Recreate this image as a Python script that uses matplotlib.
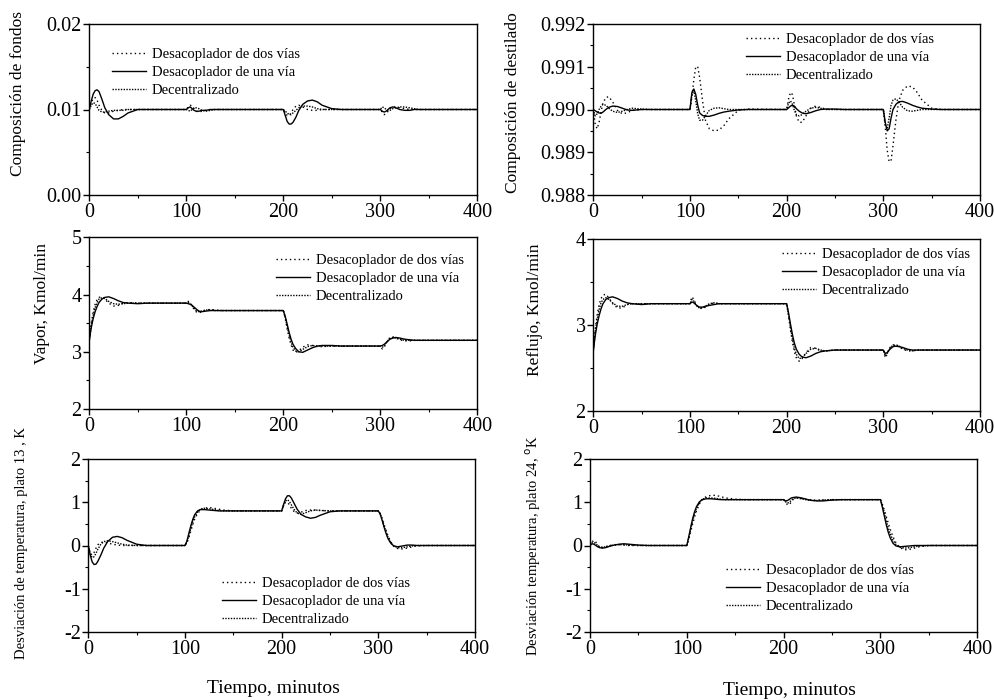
import matplotlib
matplotlib.use("Agg")
import matplotlib.pyplot as plt
from matplotlib.ticker import MultipleLocator, FormatStrFormatter

plt.rcParams['font.family'] = ['Liberation Serif', 'DejaVu Serif']
plt.rcParams['axes.unicode_minus'] = False
plt.rcParams['axes.linewidth'] = 1.0

# time grid (minutes) - same for every panel
t = [0, 2, 4, 6, 8, 10, 13, 16, 20, 25, 30, 35, 40, 50, 60,
     100, 102, 104, 106, 108, 110, 113, 116, 120, 125, 130, 135, 140, 150, 160,
     200, 202, 204, 206, 208, 210, 213, 216, 220, 225, 230, 235, 240, 250, 260,
     300, 302, 304, 306, 308, 310, 313, 316, 320, 325, 330, 335, 340, 350, 360,
     400]

labels = ['Desacoplador de dos vías', 'Desacoplador de una vía', 'Decentralizado']

# composición de fondos
fondos_dos = [0.0100, 0.0108, 0.0113, 0.0114, 0.0111, 0.0105, 0.0099, 0.0096, 0.0096, 0.0098, 0.0099, 0.0100, 0.0100, 0.0100, 0.0100,
              0.0100, 0.0103, 0.0105, 0.0104, 0.0101, 0.0098, 0.0097, 0.0098, 0.0099, 0.0100, 0.0100, 0.0100, 0.0100, 0.0100, 0.0100,
              0.0100, 0.0096, 0.0093, 0.0093, 0.0096, 0.0100, 0.0104, 0.0105, 0.0103, 0.0100, 0.0099, 0.0099, 0.0100, 0.0100, 0.0100,
              0.0100, 0.0097, 0.0094, 0.0095, 0.0098, 0.0101, 0.0103, 0.0103, 0.0102, 0.0101, 0.0100, 0.0100, 0.0100, 0.0100, 0.0100,
              0.0100]
fondos_una = [0.0100, 0.0110, 0.0118, 0.0122, 0.0123, 0.0121, 0.0112, 0.0102, 0.0094, 0.0089, 0.0089, 0.0092, 0.0096, 0.0100, 0.0100,
              0.0100, 0.0102, 0.0103, 0.0101, 0.0099, 0.0098, 0.0098, 0.0099, 0.0099, 0.0100, 0.0100, 0.0100, 0.0100, 0.0100, 0.0100,
              0.0100, 0.0093, 0.0086, 0.0083, 0.0083, 0.0085, 0.0091, 0.0099, 0.0106, 0.0110, 0.0111, 0.0109, 0.0105, 0.0101, 0.0100,
              0.0100, 0.0098, 0.0097, 0.0098, 0.0100, 0.0102, 0.0103, 0.0102, 0.0100, 0.0099, 0.0099, 0.0100, 0.0100, 0.0100, 0.0100,
              0.0100]
fondos_dec = [0.0100, 0.0105, 0.0108, 0.0107, 0.0103, 0.0099, 0.0097, 0.0097, 0.0098, 0.0099, 0.0099, 0.0099, 0.0100, 0.0100, 0.0100,
              0.0100, 0.0099, 0.0098, 0.0100, 0.0102, 0.0102, 0.0101, 0.0099, 0.0098, 0.0099, 0.0100, 0.0100, 0.0100, 0.0100, 0.0100,
              0.0100, 0.0098, 0.0096, 0.0094, 0.0094, 0.0096, 0.0099, 0.0102, 0.0104, 0.0104, 0.0103, 0.0101, 0.0100, 0.0100, 0.0100,
              0.0100, 0.0103, 0.0102, 0.0100, 0.0099, 0.0099, 0.0101, 0.0102, 0.0103, 0.0103, 0.0102, 0.0101, 0.0100, 0.0100, 0.0100,
              0.0100]

# composición de destilado
dest_dos = [0.99000, 0.98965, 0.98955, 0.98970, 0.98995, 0.99015, 0.99028, 0.99030, 0.99018, 0.98998, 0.98990, 0.98992, 0.98998, 0.99000, 0.99000,
            0.99000, 0.99030, 0.99070, 0.99100, 0.99100, 0.99075, 0.99020, 0.98975, 0.98955, 0.98950, 0.98952, 0.98962, 0.98978, 0.98998, 0.99001,
            0.99000, 0.99025, 0.99040, 0.99035, 0.99010, 0.98985, 0.98970, 0.98970, 0.98985, 0.99003, 0.99008, 0.99005, 0.99001, 0.99000, 0.99000,
            0.99000, 0.98960, 0.98905, 0.98878, 0.98880, 0.98915, 0.98975, 0.99020, 0.99045, 0.99055, 0.99053, 0.99040, 0.99022, 0.99003, 0.99000,
            0.99000]
dest_una = [0.99000, 0.98997, 0.98994, 0.98992, 0.98991, 0.98994, 0.99000, 0.99005, 0.99008, 0.99007, 0.99003, 0.98999, 0.98998, 0.99000, 0.99000,
            0.99000, 0.99040, 0.99048, 0.99035, 0.99010, 0.98992, 0.98986, 0.98984, 0.98984, 0.98987, 0.98991, 0.98994, 0.98996, 0.98999, 0.99000,
            0.99000, 0.99004, 0.99008, 0.99010, 0.99008, 0.99002, 0.98996, 0.98992, 0.98990, 0.98993, 0.98997, 0.99000, 0.99001, 0.99001, 0.99000,
            0.99000, 0.98970, 0.98950, 0.98955, 0.98980, 0.99000, 0.99012, 0.99018, 0.99019, 0.99015, 0.99010, 0.99006, 0.99003, 0.99001, 0.99000,
            0.99000]
dest_dec = [0.99000, 0.98985, 0.98990, 0.99000, 0.99008, 0.99012, 0.99010, 0.99003, 0.98996, 0.98993, 0.98996, 0.99000, 0.99003, 0.99001, 0.99000,
            0.99000, 0.99035, 0.99045, 0.99020, 0.98990, 0.98975, 0.98975, 0.98985, 0.98998, 0.99003, 0.99004, 0.99002, 0.99000, 0.99000, 0.99000,
            0.99000, 0.99015, 0.99020, 0.99012, 0.98998, 0.98988, 0.98985, 0.98988, 0.98996, 0.99003, 0.99005, 0.99003, 0.99000, 0.99000, 0.99000,
            0.99000, 0.98965, 0.98955, 0.98980, 0.99010, 0.99022, 0.99025, 0.99018, 0.99005, 0.98997, 0.98996, 0.98998, 0.99000, 0.99000, 0.99000,
            0.99000]

# vapor, Kmol/min
vapor_dos = [3.20, 3.50, 3.70, 3.83, 3.91, 3.95, 3.96, 3.92, 3.85, 3.80, 3.81, 3.85, 3.86, 3.85, 3.85,
             3.85, 3.88, 3.86, 3.80, 3.74, 3.70, 3.68, 3.70, 3.73, 3.74, 3.73, 3.72, 3.72, 3.72, 3.72,
             3.72, 3.58, 3.40, 3.24, 3.12, 3.03, 2.99, 3.02, 3.08, 3.12, 3.11, 3.09, 3.09, 3.10, 3.10,
             3.10, 3.05, 3.08, 3.15, 3.21, 3.25, 3.26, 3.24, 3.21, 3.19, 3.19, 3.20, 3.20, 3.20, 3.20,
             3.20]
vapor_una = [3.20, 3.42, 3.58, 3.70, 3.79, 3.86, 3.92, 3.95, 3.96, 3.93, 3.89, 3.86, 3.85, 3.84, 3.85,
             3.85, 3.84, 3.83, 3.81, 3.78, 3.75, 3.71, 3.70, 3.71, 3.72, 3.72, 3.72, 3.72, 3.72, 3.72,
             3.72, 3.62, 3.48, 3.34, 3.22, 3.13, 3.05, 3.00, 2.99, 3.03, 3.07, 3.10, 3.11, 3.11, 3.10,
             3.10, 3.11, 3.13, 3.16, 3.19, 3.22, 3.24, 3.25, 3.24, 3.22, 3.21, 3.20, 3.20, 3.20, 3.20,
             3.20]
vapor_dec = [3.20, 3.46, 3.64, 3.77, 3.86, 3.92, 3.94, 3.93, 3.88, 3.84, 3.83, 3.84, 3.85, 3.85, 3.85,
             3.85, 3.86, 3.84, 3.80, 3.76, 3.72, 3.70, 3.71, 3.73, 3.73, 3.72, 3.72, 3.72, 3.72, 3.72,
             3.72, 3.60, 3.44, 3.29, 3.17, 3.08, 3.01, 3.00, 3.04, 3.09, 3.11, 3.10, 3.10, 3.10, 3.10,
             3.10, 3.08, 3.10, 3.15, 3.20, 3.23, 3.25, 3.24, 3.22, 3.20, 3.20, 3.20, 3.20, 3.20, 3.20,
             3.20]

# reflujo, Kmol/min
refl_dos = [2.70, 2.95, 3.12, 3.24, 3.31, 3.35, 3.36, 3.32, 3.25, 3.20, 3.20, 3.24, 3.25, 3.25, 3.25,
            3.25, 3.33, 3.30, 3.25, 3.22, 3.20, 3.19, 3.21, 3.24, 3.26, 3.25, 3.25, 3.25, 3.25, 3.25,
            3.25, 3.10, 2.94, 2.80, 2.69, 2.62, 2.58, 2.61, 2.68, 2.74, 2.73, 2.70, 2.70, 2.71, 2.71,
            2.71, 2.62, 2.66, 2.72, 2.76, 2.77, 2.77, 2.75, 2.72, 2.70, 2.70, 2.71, 2.71, 2.71, 2.71,
            2.71]
refl_una = [2.70, 2.88, 3.01, 3.11, 3.19, 3.25, 3.30, 3.32, 3.33, 3.31, 3.28, 3.26, 3.25, 3.24, 3.25,
            3.25, 3.27, 3.26, 3.24, 3.22, 3.21, 3.21, 3.22, 3.23, 3.24, 3.25, 3.25, 3.25, 3.25, 3.25,
            3.25, 3.14, 3.01, 2.89, 2.79, 2.72, 2.66, 2.63, 2.62, 2.64, 2.67, 2.69, 2.70, 2.71, 2.71,
            2.71, 2.67, 2.68, 2.71, 2.73, 2.75, 2.755, 2.75, 2.74, 2.72, 2.71, 2.71, 2.71, 2.71, 2.71,
            2.71]
refl_dec = [2.70, 2.92, 3.07, 3.18, 3.26, 3.30, 3.32, 3.30, 3.26, 3.22, 3.22, 3.24, 3.25, 3.25, 3.25,
            3.25, 3.30, 3.28, 3.24, 3.21, 3.20, 3.20, 3.22, 3.25, 3.26, 3.25, 3.25, 3.25, 3.25, 3.25,
            3.25, 3.12, 2.97, 2.84, 2.73, 2.66, 2.61, 2.62, 2.67, 2.72, 2.73, 2.71, 2.70, 2.71, 2.71,
            2.71, 2.64, 2.67, 2.72, 2.75, 2.76, 2.77, 2.76, 2.73, 2.71, 2.70, 2.71, 2.71, 2.71, 2.71,
            2.71]

# desviación de temperatura, plato 13
p13_dos = [0.00, -0.18, -0.22, -0.16, -0.06, 0.02, 0.07, 0.08, 0.06, 0.03, 0.01, 0.00, 0.00, 0.00, 0.00,
           0.00, 0.06, 0.18, 0.33, 0.48, 0.61, 0.74, 0.82, 0.86, 0.88, 0.86, 0.84, 0.82, 0.80, 0.80,
           0.80, 0.92, 1.00, 1.00, 0.94, 0.86, 0.78, 0.75, 0.77, 0.81, 0.82, 0.82, 0.81, 0.80, 0.80,
           0.80, 0.74, 0.62, 0.48, 0.35, 0.22, 0.08, -0.02, -0.07, -0.08, -0.06, -0.03, -0.01, 0.00, 0.00,
           0.00]
p13_una = [0.00, -0.22, -0.38, -0.44, -0.43, -0.36, -0.22, -0.06, 0.09, 0.19, 0.21, 0.18, 0.12, 0.03, 0.00,
           0.00, 0.10, 0.28, 0.45, 0.60, 0.71, 0.80, 0.83, 0.83, 0.82, 0.81, 0.80, 0.80, 0.80, 0.80,
           0.80, 0.95, 1.08, 1.15, 1.15, 1.10, 0.97, 0.84, 0.72, 0.66, 0.63, 0.65, 0.70, 0.78, 0.80,
           0.80, 0.72, 0.58, 0.42, 0.28, 0.16, 0.05, -0.01, -0.03, -0.01, 0.01, 0.01, 0.00, 0.00, 0.00,
           0.00]
p13_dec = [0.00, -0.20, -0.28, -0.26, -0.18, -0.08, 0.03, 0.09, 0.11, 0.09, 0.06, 0.03, 0.01, 0.00, 0.00,
           0.00, 0.08, 0.23, 0.39, 0.54, 0.66, 0.78, 0.84, 0.86, 0.85, 0.83, 0.81, 0.80, 0.80, 0.80,
           0.80, 0.93, 1.03, 1.06, 1.02, 0.94, 0.83, 0.75, 0.72, 0.76, 0.80, 0.82, 0.81, 0.80, 0.80,
           0.80, 0.73, 0.60, 0.45, 0.31, 0.19, 0.06, -0.01, -0.05, -0.05, -0.03, -0.01, 0.00, 0.00, 0.00,
           0.00]

# desviación de temperatura, plato 24
p24_dos = [0.00, 0.08, 0.12, 0.08, 0.00, -0.04, -0.05, -0.03, 0.00, 0.02, 0.02, 0.01, 0.00, 0.00, 0.00,
           0.00, 0.15, 0.32, 0.50, 0.66, 0.80, 0.96, 1.07, 1.13, 1.16, 1.16, 1.13, 1.10, 1.07, 1.06,
           1.06, 1.00, 0.94, 0.95, 1.01, 1.07, 1.10, 1.10, 1.08, 1.06, 1.05, 1.05, 1.05, 1.06, 1.06,
           1.06, 0.95, 0.82, 0.67, 0.52, 0.38, 0.20, 0.06, -0.05, -0.10, -0.09, -0.06, -0.03, 0.00, 0.00,
           0.00]
p24_una = [0.00, 0.04, 0.03, 0.00, -0.03, -0.05, -0.06, -0.05, -0.02, 0.01, 0.03, 0.04, 0.03, 0.01, 0.00,
           0.00, 0.20, 0.42, 0.62, 0.78, 0.90, 1.01, 1.06, 1.08, 1.08, 1.07, 1.06, 1.06, 1.06, 1.06,
           1.06, 1.03, 1.04, 1.07, 1.10, 1.11, 1.12, 1.11, 1.09, 1.06, 1.04, 1.03, 1.03, 1.05, 1.06,
           1.06, 0.88, 0.68, 0.48, 0.31, 0.18, 0.05, -0.01, -0.03, -0.02, -0.01, 0.00, 0.00, 0.00, 0.00,
           0.00]
p24_dec = [0.00, 0.06, 0.07, 0.04, 0.00, -0.03, -0.04, -0.03, -0.01, 0.01, 0.02, 0.02, 0.01, 0.00, 0.00,
           0.00, 0.18, 0.38, 0.57, 0.73, 0.86, 0.99, 1.07, 1.10, 1.10, 1.09, 1.07, 1.06, 1.06, 1.06,
           1.06, 1.01, 0.98, 1.00, 1.05, 1.08, 1.10, 1.09, 1.07, 1.05, 1.04, 1.04, 1.05, 1.06, 1.06,
           1.06, 0.92, 0.75, 0.57, 0.41, 0.27, 0.12, 0.02, -0.04, -0.06, -0.05, -0.03, -0.01, 0.00, 0.00,
           0.00]

W, H = 995, 700
fig = plt.figure(figsize=(W / 100, H / 100), dpi=100)


def px_axes(left, top, right, bottom):
    return fig.add_axes([left / W, 1 - bottom / H, (right - left) / W, (bottom - top) / H])


styles = [dict(color='black', lw=1.0, ls=(0, (1, 2.2))),
          dict(color='black', lw=1.0, ls='-'),
          dict(color='black', lw=1.0, ls=(0, (1, 1)))]

panels = [
    # box, data, ylim, major, minor, fmt, ylabel, label pos, legend anchor
    dict(box=(89.3, 24, 477.3, 195), data=(fondos_dos, fondos_una, fondos_dec),
         ylim=(0, 0.02), major=0.01, minor=0.005, fmt='%.2f',
         ylabel='Composición de fondos', ylsize=12.5, lab=(18, 94), leg=(112, 48)),
    dict(box=(593.3, 24, 980, 195), data=(dest_dos, dest_una, dest_dec),
         ylim=(0.988, 0.992), major=0.001, minor=0.0005, fmt='%.3f',
         ylabel='Composición de destilado', ylsize=12.5, lab=(513, 103), leg=(746, 33)),
    dict(box=(89.3, 237.3, 477.3, 409), data=(vapor_dos, vapor_una, vapor_dec),
         ylim=(2, 5), major=1, minor=0.5, fmt='%d',
         ylabel='Vapor, Kmol/min', ylsize=12.5, lab=(42, 303), leg=(276, 254)),
    dict(box=(593.3, 239.3, 980, 411), data=(refl_dos, refl_una, refl_dec),
         ylim=(2, 4), major=1, minor=0.5, fmt='%d',
         ylabel='Reflujo, Kmol/min', ylsize=12.5, lab=(535, 310), leg=(782, 248)),
    dict(box=(88.3, 459, 475, 632), data=(p13_dos, p13_una, p13_dec),
         ylim=(-2, 2), major=1, minor=0.5, fmt='%d',
         ylabel='Desviación de temperatura, plato 13 , K', ylsize=10.5, lab=(22, 543), leg=(222, 577)),
    dict(box=(590, 459, 977.3, 632), data=(p24_dos, p24_una, p24_dec),
         ylim=(-2, 2), major=1, minor=0.5, fmt='%d',
         ylabel='Desviación temperatura, plato 24, $^{\\mathrm{o}}$K', ylsize=10.5, lab=(533, 546), leg=(726, 564)),
]

axes = []
for p in panels:
    left, top, right, bottom = p['box']
    ax = px_axes(left, top, right, bottom)
    for y, lab, st in zip(p['data'], labels, styles):
        ax.plot(t, y, label=lab, **st)
    ax.set_xlim(0, 400)
    ax.set_ylim(*p['ylim'])
    ax.xaxis.set_major_locator(MultipleLocator(100))
    ax.xaxis.set_minor_locator(MultipleLocator(50))
    ax.yaxis.set_major_locator(MultipleLocator(p['major']))
    ax.yaxis.set_minor_locator(MultipleLocator(p['minor']))
    ax.yaxis.set_major_formatter(FormatStrFormatter(p['fmt']))
    ax.tick_params(which='major', direction='out', length=4, width=1.0, labelsize=14.5, pad=1.5)
    ax.tick_params(which='minor', direction='out', length=2.5, width=0.8)
    # label centred on its measured pixel position
    lx, ly = p['lab']
    ax.set_ylabel(p['ylabel'], fontsize=p['ylsize'], va='center', ha='center')
    ax.yaxis.set_label_coords((lx - left) / (right - left), (bottom - ly) / (bottom - top))
    gx, gy = p['leg']
    ax.legend(loc='upper left', bbox_to_anchor=(gx / W, 1 - gy / H), bbox_transform=fig.transFigure,
              frameon=False, fontsize=10.5, handlelength=2.3, handletextpad=0.45,
              labelspacing=0.32, borderpad=0, borderaxespad=0)
    axes.append((ax, p))

for ax, p in axes[4:]:
    ax.set_xlabel('Tiempo, minutos', fontsize=14, va='center')
xl = axes[4][0]
xl.xaxis.set_label_coords((273 - 88.3) / 386.7, (632 - 689) / 173)
xr = axes[5][0]
xr.xaxis.set_label_coords((789 - 590) / 387.3, (632 - 691) / 173)

fig.savefig('out.png', dpi=100)
